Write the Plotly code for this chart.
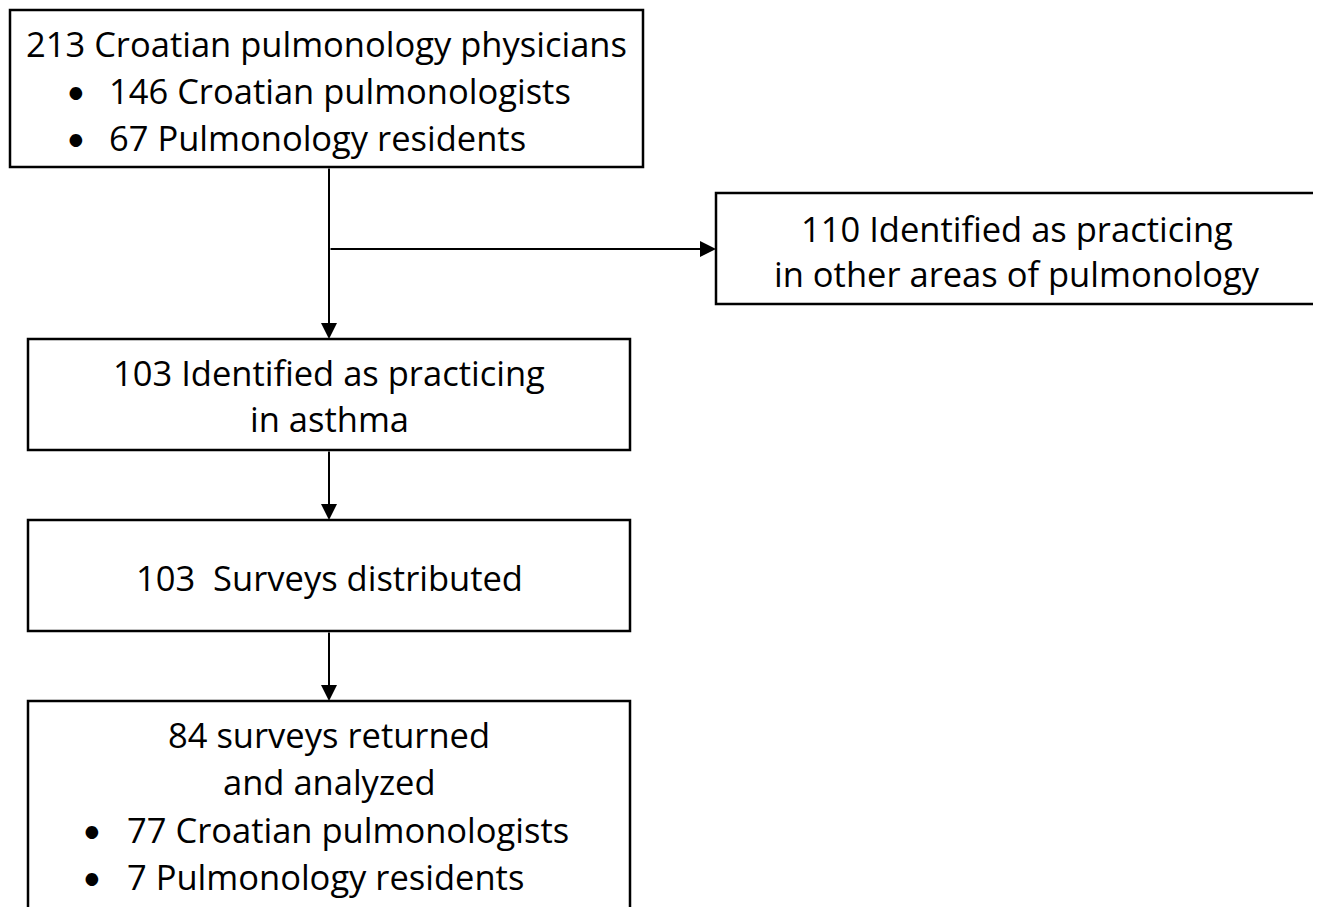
import plotly.graph_objects as go

# ---- content ----
box_lines = [
    ["213 Croatian pulmonology physicians"],
    ["110 Identified as practicing", "in other areas of pulmonology"],
    ["103 Identified as practicing", "in asthma"],
    ["103  Surveys distributed"],
    ["84 surveys returned", "and analyzed"],
]
box_bullets = [
    ["146 Croatian pulmonologists", "67 Pulmonology residents"],
    [],
    [],
    [],
    ["77 Croatian pulmonologists", "7 Pulmonology residents"],
]

# ---- layout geometry (pixels) ----
boxes = [  # x0, y0, x1, y1
    (10, 10, 643, 167),
    (716, 193, 1318, 304),
    (28, 339, 630, 450),
    (28, 520, 630, 631),
    (28, 701, 630, 940),
]
line_y = [
    [43],
    [228, 273],
    [372, 418],
    [577],
    [734, 781],
]
bullet_y = [
    [90, 137],
    [],
    [],
    [],
    [829, 876],
]
bullet_x = [(76, 107), None, None, None, (92, 125)]

W, H = 1321, 915
OFF = 8  # page body margin
FONT = "Open Sans, Carlito, Calibri, sans-serif"
FS = 34.5

fig = go.Figure()
fig.add_trace(go.Scatter(x=[OFF, W], y=[OFF, H], mode="markers",
                         marker=dict(opacity=0), hoverinfo="skip", showlegend=False))

shapes = []
annotations = []
for i, (x0, y0, x1, y1) in enumerate(boxes):
    shapes.append(dict(type="rect", x0=x0, y0=y0, x1=x1, y1=y1, xref="x", yref="y",
                       line=dict(color="black", width=2.5), fillcolor="white", layer="below"))
    cx = (x0 + x1) / 2
    for txt, y in zip(box_lines[i], line_y[i]):
        annotations.append(dict(x=cx, y=y, xref="x", yref="y", text=txt, showarrow=False,
                                xanchor="center", yanchor="middle",
                                font=dict(family=FONT, size=FS, color="black")))
    for txt, y in zip(box_bullets[i], bullet_y[i]):
        bx, tx = bullet_x[i]
        annotations.append(dict(x=bx, y=y, xref="x", yref="y", text="•", showarrow=False,
                                xanchor="center", yanchor="middle",
                                font=dict(family="Lato, sans-serif", size=34, color="black")))
        annotations.append(dict(x=tx, y=y, xref="x", yref="y", text=txt, showarrow=False,
                                xanchor="left", yanchor="middle",
                                font=dict(family=FONT, size=FS, color="black")))

# connectors
spine_x = 329
branch_y = 249
arrows = [
    (spine_x, 167, spine_x, 339),
    (spine_x, branch_y, 716, branch_y),
    (spine_x, 450, spine_x, 520),
    (spine_x, 631, spine_x, 701),
]
for ax, ay, x, y in arrows:
    annotations.append(dict(x=x, y=y, ax=ax, ay=ay, xref="x", yref="y", axref="x", ayref="y",
                            text="", showarrow=True, arrowhead=2, arrowsize=1.6,
                            arrowwidth=2, arrowcolor="black", standoff=0))

PH = H - 2 * OFF
fig.update_layout(
    width=W - OFF, height=PH,
    margin=dict(l=0, r=0, t=0, b=0),
    paper_bgcolor="white", plot_bgcolor="white",
    xaxis=dict(range=[OFF, W], visible=False, fixedrange=True),
    yaxis=dict(range=[OFF + PH, OFF], visible=False, fixedrange=True),
    shapes=shapes, annotations=annotations, showlegend=False,
)
fig.write_html("out.html")
